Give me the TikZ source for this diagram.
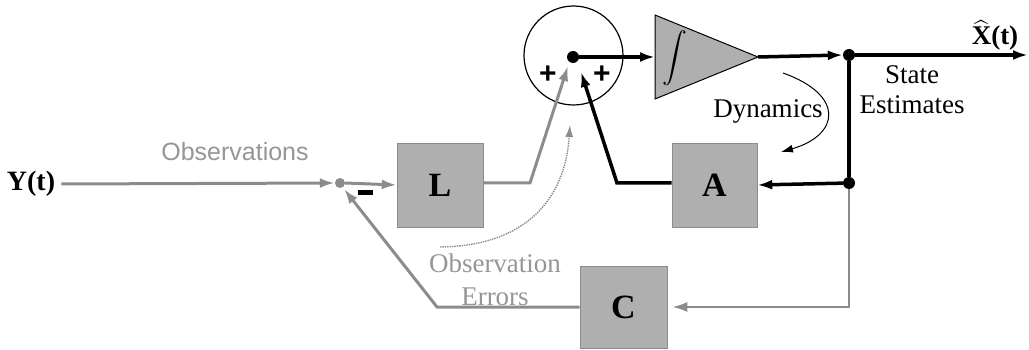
\documentclass[tikz,border=0pt]{standalone}
\usepackage{amsmath}
\usepackage{fontspec}
\setmainfont{Liberation Serif}
\newfontfamily\helv{Liberation Sans}
\usetikzlibrary{arrows.meta}
\definecolor{lineg}{RGB}{140,140,140}
\definecolor{boxg}{RGB}{175,175,175}
\definecolor{textg}{RGB}{150,150,150}
\tikzset{
  blk/.style={font=\fontsize{28}{30}\selectfont\bfseries},
  gbox/.style={draw=boxg!80!black, line width=0.6pt, fill=boxg, inner sep=0pt, font=\fontsize{34}{36}\selectfont\bfseries},
  dotnode/.style={circle, fill=black, inner sep=0pt, minimum size=12pt},
  gline/.style={draw=lineg, line width=3pt},
  kline/.style={draw=black, line width=3.5pt},
  garrow/.style={gline, -{Latex[length=15pt,width=10pt]}},
  karrow/.style={kline, -{Latex[length=15pt,width=10pt]}},
  lbl/.style={font=\fontsize{27}{30}\selectfont, inner sep=0pt},
  sign/.style={font=\helv\bfseries\fontsize{30}{30}\selectfont, inner sep=0pt},
}
\begin{document}
\begin{tikzpicture}[x=1pt,y=-1pt]
\useasboundingbox (0,0) rectangle (1029,350);

% nodes
\node[blk, inner sep=0pt] (Y) at (31,184) {Y(t)};
\node[circle, fill=lineg, inner sep=0pt, minimum size=10pt] (sd) at (340,183) {};
\node[gbox, minimum width=86pt, minimum height=84pt] (L) at (440,185) {L};
\node[gbox, minimum width=85pt, minimum height=84pt] (A) at (714.5,185) {A};
\node[gbox, minimum width=87pt, minimum height=82pt] (C) at (623.5,307) {C};
\node[circle, draw=black, line width=1.2pt, minimum size=99pt, inner sep=0pt] (sum) at (573.5,55.5) {};
\node[dotnode] (d1) at (573,57) {};
\node[dotnode] (d2) at (849,55) {};
\node[dotnode] (d3) at (849,183) {};

% integrator
\coordinate (iw) at (655,57);
\coordinate (ie) at (758,57);
\fill[boxg] (655,15) -- (ie) -- (655,99) -- cycle;
\draw[line width=1pt] (655,15) -- (ie) -- (655,99) -- cycle;
\node[font=\fontsize{25}{25}\selectfont, inner sep=0pt] (int) at (675,58) {$\displaystyle\boldsymbol{\int}$};

\coordinate (out) at (1028,55);
\coordinate (lb) at (530,183);
\coordinate (ltip) at (568,66);
\coordinate (ab) at (617,183);
\coordinate (atip) at (581,72);
\coordinate (cr) at (849,307);
\coordinate (cl) at (437,307);
\coordinate (ctip) at (344,189);

% grey connectors
\draw[garrow] (Y.east) ++(6,0) -- (sd.west);
\draw[garrow] (sd.east) -- (L.west);
\draw[garrow] (L.east |- lb) -- (lb) -- (ltip);
\draw[draw=lineg, line width=2pt, -{Latex[length=15pt,width=10pt]}] (d3) -- (cr) -- ([xshift=5pt]C.east);
\draw[garrow] (C.west) -- (cl) -- (ctip);

% black connectors
\draw[karrow] (d1) -- (iw);
\draw[karrow] (ie) -- (d2.west);
\draw[karrow] (d2) -- (out);
\draw[kline] (d2) -- (d3);
\draw[karrow] (d3) -- (A.east);
\draw[karrow] (A.west |- ab) -- (ab) -- (atip);

% curved annotation arrows
\draw[line width=1pt, -{Latex[length=12pt,width=8pt]}] (783,73) .. controls (845,95) and (840,135) .. (781,152);
\draw[draw=lineg, line width=1.4pt, densely dotted, -{Latex[length=12pt,width=8pt]}] (440,247) .. controls (525,246) and (565,200) .. (570,125);

% signs
\node[sign] (pl) at (548,75) {+};
\node[sign] (pr) at (602,75) {+};
\node[inner sep=0pt] (mn) at (365,193) {\rule{15pt}{5pt}};

% labels
\node[lbl, font=\helv\fontsize{25}{28}\selectfont, text=textg] (obs) at (235,152) {Observations};
\node[lbl, text=textg, align=center, font=\fontsize{27}{33}\selectfont] (oe) at (495,280) {Observation\\Errors};
\node[lbl] (dyn) at (768,111) {Dynamics};
\node[lbl, align=center, font=\fontsize{27}{30}\selectfont] (se) at (912,90) {State\\Estimates};
\node[blk, font=\fontsize{27}{30}\selectfont\bfseries, inner sep=0pt, anchor=base] (xh) at (995,45) {$\widehat{\text{X}}$(t)};
\end{tikzpicture}
\end{document}
